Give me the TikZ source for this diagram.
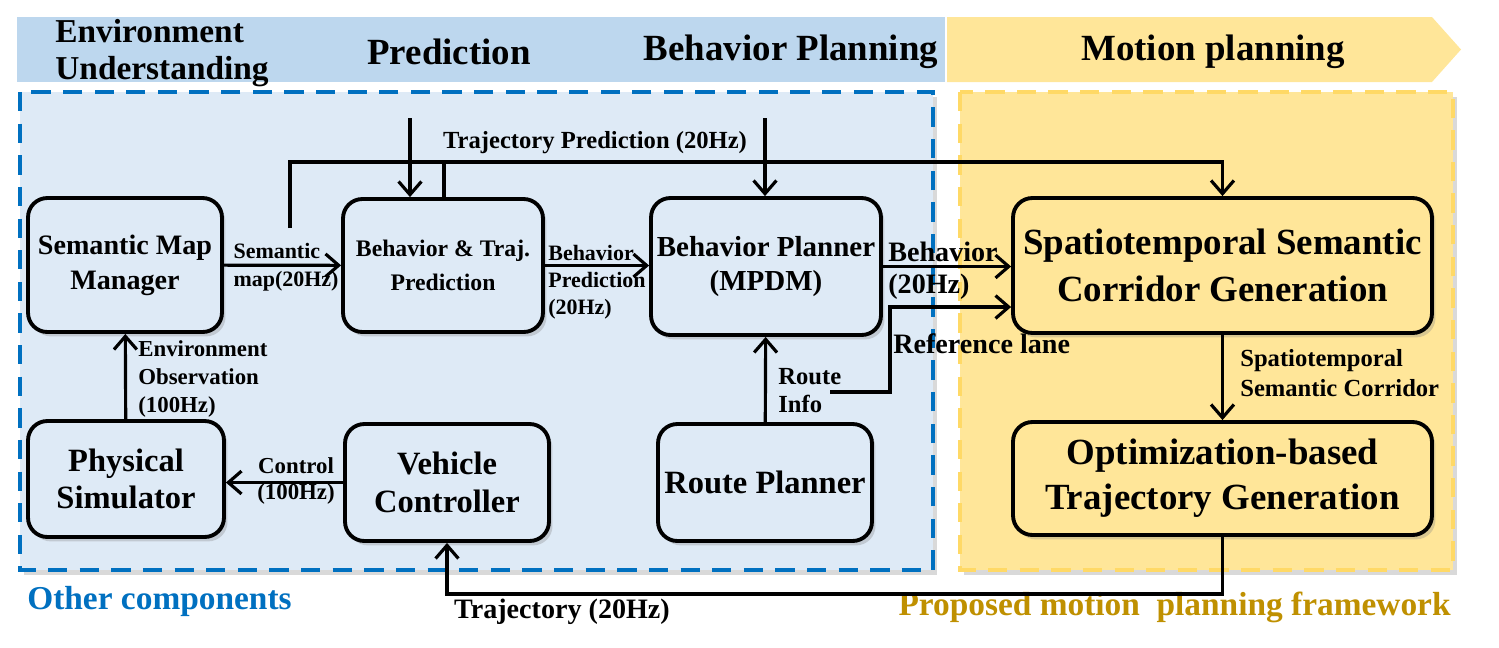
\documentclass[tikz,border=0pt]{standalone}
\usepackage{fontspec}
\setmainfont{Liberation Serif}
\usetikzlibrary{arrows.meta,calc,shadows}

\definecolor{bandblue}{HTML}{BDD7EE}
\definecolor{paneblue}{HTML}{DEEAF6}
\definecolor{edgeblue}{HTML}{0070C0}
\definecolor{paneyellow}{HTML}{FFE699}
\definecolor{edgeyellow}{HTML}{FFD966}
\definecolor{darkgold}{HTML}{BF9000}

\newcommand{\bfsz}[2]{\fontsize{#1}{#2}\selectfont\bfseries}

\begin{document}
\begin{tikzpicture}[x=0.02cm,y=-0.02cm,>={Straight Barb[length=7.5pt,width=13pt]},
  blk/.style={draw,line width=2.2pt,rounded corners=11pt,align=center,
    drop shadow={shadow xshift=2pt,shadow yshift=-2.5pt,opacity=0.3}},
  arr/.style={line width=1.8pt,->},
  wire/.style={line width=1.8pt},
  pane/.style={line width=2.8pt,dash pattern=on 11pt off 7pt,
    drop shadow={shadow xshift=2.5pt,shadow yshift=-3pt,opacity=0.3}},
  lbl/.style={align=left,inner sep=0pt}]
  \useasboundingbox (0,0) rectangle (1499,647);
  % stage band
  \fill[bandblue] (17,17) rectangle (945,82);
  \fill[paneyellow] (947,17) -- (1432,17) -- (1461,49.5) -- (1432,82) -- (947,82) -- cycle;
  \node[lbl,anchor=west,font=\bfsz{19}{21.5}] (hdenv) at (55,53) {Environment\\Understanding};
  \node[font=\bfsz{21}{25}] (hdpred) at (449,52) {Prediction};
  \node[font=\bfsz{21}{25}] (hdbeh) at (791,52) {Behavior Planning};
  \node[font=\bfsz{21}{25}] (hdmot) at (1213,52) {Motion planning};
  % panes
  \draw[pane,edgeblue,fill=paneblue] (20,92) rectangle (933,570);
  \draw[pane,edgeyellow,fill=paneyellow] (960,92) rectangle (1453,570);
  \node[lbl,anchor=west,text=edgeblue,font=\bfsz{19}{22}] (othr) at (27,601) {Other components};
  \node[lbl,anchor=east,text=darkgold,font=\bfsz{19}{22}] (prop) at (1451,607) {Proposed motion\ \ planning framework};
  % blocks
  \node[blk,fill=paneblue,minimum width=3.88cm,minimum height=2.68cm,font=\bfsz{16}{20}] (smm) at (125,265) {Semantic Map\\Manager};
  \node[blk,fill=paneblue,minimum width=4.0cm,minimum height=2.66cm,font=\bfsz{13.5}{19}] (btp) at (443,265.5) {Behavior \& Traj.\\Prediction};
  \node[blk,fill=paneblue,minimum width=4.56cm,minimum height=2.74cm,font=\bfsz{16.5}{19}] (bp) at (766,266.5) {Behavior Planner\\(MPDM)};
  \node[blk,fill=paneyellow,minimum width=8.38cm,minimum height=2.7cm,font=\bfsz{21}{27}] (ssc) at (1222.5,265.5) {Spatiotemporal Semantic\\Corridor Generation};
  \node[blk,fill=paneblue,minimum width=3.92cm,minimum height=2.32cm,font=\bfsz{18.5}{21.5}] (ps) at (126,479) {Physical\\Simulator};
  \node[blk,fill=paneblue,minimum width=4.08cm,minimum height=2.34cm,font=\bfsz{18.5}{21.5}] (vc) at (447,482.5) {Vehicle\\Controller};
  \node[blk,fill=paneblue,minimum width=4.28cm,minimum height=2.34cm,font=\bfsz{18.5}{21.5}] (rp) at (765,482.5) {Route Planner};
  \node[blk,fill=paneyellow,minimum width=8.38cm,minimum height=2.26cm,font=\bfsz{21}{25.5}] (otg) at (1222.5,478.5) {Optimization-based\\Trajectory Generation};
  % free ends
  \coordinate (inpred) at (410,118);
  \coordinate (inbeh) at (765,118);
  \coordinate (semup) at (290,228);
  \coordinate (tpjoin) at (444,162);
  \coordinate (rinfo) at (830,392);
  \coordinate (rbend) at (890,307);
  % connectors
  \draw[arr] (smm) -- (btp);
  \draw[arr] (btp.east) -- (btp.east -| bp.west);
  \draw[arr] (bp.east) -- (bp.east -| ssc.west);
  \draw[arr] (rinfo) -| (rbend) -- (rbend -| ssc.west);
  \draw[arr] (rp) -- (bp);
  \draw[arr] (inpred) -- (inpred |- btp.north);
  \draw[arr] (inbeh) -- (inbeh |- bp.north);
  \draw[arr] (semup) |- (tpjoin) -| (ssc.north);
  \draw[wire] (tpjoin |- btp.north) -- (tpjoin);
  \draw[arr] (ssc) -- (otg);
  \draw[arr] (otg.south) -- ++(0,57) -| (vc.south);
  \draw[arr] (vc.west) -- (vc.west -| ps.east);
  \draw[arr] (ps) -- (smm);
  % labels
  \node[lbl,font=\bfsz{12.5}{16}] (lsem) at (286,267) {Semantic\\map(20Hz)};
  \node[lbl,anchor=west,font=\bfsz{12.5}{15.4}] (lbpr) at (548,282) {Behavior\\Prediction\\(20Hz)};
  \node[lbl,anchor=west,font=\bfsz{16}{18}] (lbeh) at (888,271) {Behavior\\(20Hz)};
  \node[lbl,anchor=west,font=\bfsz{16}{18}] (lref) at (893,344) {Reference lane};
  \node[lbl,anchor=west,font=\bfsz{14}{16}] (lrte) at (778,391) {Route\\Info};
  \node[font=\bfsz{14}{16},inner sep=0pt] (ltp) at (595,143) {Trajectory Prediction (20Hz)};
  \node[lbl,anchor=west,font=\bfsz{14}{17}] (lcor) at (1240,373) {Spatiotemporal\\Semantic Corridor};
  \node[font=\bfsz{16}{18},inner sep=0pt] (ltraj) at (562,612) {Trajectory (20Hz)};
  \node[lbl,align=center,font=\bfsz{13}{15}] (lctl) at (296,481) {Control\\(100Hz)};
  \node[lbl,anchor=west,font=\bfsz{13}{16}] (lobs) at (138,379) {Environment\\Observation\\(100Hz)};
\end{tikzpicture}
\end{document}
